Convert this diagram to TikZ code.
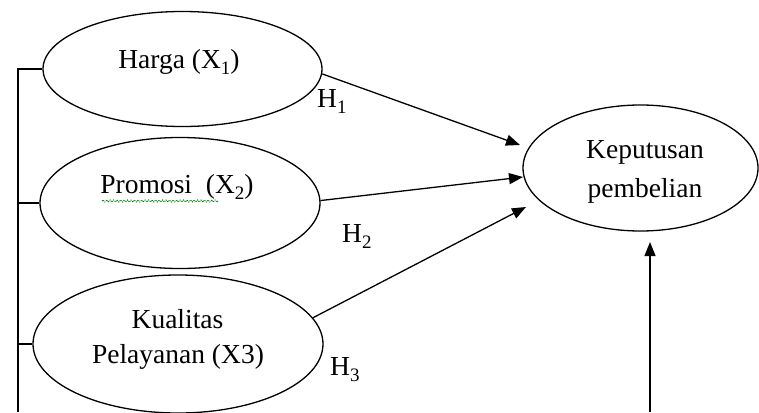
\documentclass[tikz,border=0pt]{standalone}
\usepackage{fontspec}
\setmainfont{Liberation Serif}
\usetikzlibrary{shapes.geometric,arrows.meta,decorations.pathmorphing}
\newcommand\sbs[1]{\raisebox{-0.22em}{\fontsize{19}{19}\selectfont #1}}
\begin{document}
\begin{tikzpicture}[x=1pt,y=-1pt,
  oval/.style={draw,ellipse,line width=1.3pt,inner sep=0pt},
  lbl/.style={font=\fontsize{27.5}{36}\selectfont,inner sep=0pt,anchor=base},
  hlbl/.style={font=\fontsize{27.5}{36}\selectfont,inner sep=0pt,anchor=base west},
  conn/.style={line width=1.3pt},
  arr/.style={line width=1.3pt,-{Triangle[length=14pt,width=11pt]}}]
\useasboundingbox (0,0) rectangle (759,412);
% ellipses
\node[oval,minimum width=279pt,minimum height=115pt] (e1) at (182.5,69) {};
\node[oval,minimum width=280pt,minimum height=131pt] (e2) at (180,203) {};
\node[oval,minimum width=290pt,minimum height=138pt] (e3) at (178,344) {};
\node[oval,minimum width=235pt,minimum height=126pt] (e4) at (640.5,168) {};
% texts
\node[lbl] (t1) at (179,68) {Harga (X\sbs{1})};
\node[lbl] (t2) at (177,193) {Promosi\ \ (X\sbs{2})};
\node[lbl] (t3a) at (177.5,328) {Kualitas};
\node[lbl] (t3b) at (178,363) {Pelayanan (X3)};
\node[lbl] (t4a) at (645,158) {Keputusan};
\node[lbl] (t4b) at (645,197) {pembelian};
\node[hlbl] (h1) at (317,107) {H\sbs{1}};
\node[hlbl] (h2) at (342,242) {H\sbs{2}};
\node[hlbl] (h3) at (330,375) {H\sbs{3}};
% spell-check underline
\draw[green!50!black,line width=0.9pt,densely dotted,decorate,decoration={snake,amplitude=1pt,segment length=3.5pt}] (102,201) -- (218,201);
% bracket
\coordinate (bot) at (18,412);
\draw[conn] (e1.west) -| (bot);
\draw[conn] (e2.west) -- (e2.west -| bot);
\draw[conn] (e3.west) -- (e3.west -| bot);
% arrows
\coordinate (p1) at (520,145);
\coordinate (p2) at (523,177);
\coordinate (p3) at (526,207);
\coordinate (p4) at (650,242);
\coordinate (b4) at (650,412);
\draw[arr] (e1.-2) -- (p1);
\draw[arr] (e2.1) -- (p2);
\draw[arr] (e3.11) -- (p3);
\draw[arr] (b4) -- (p4);
\end{tikzpicture}
\end{document}
